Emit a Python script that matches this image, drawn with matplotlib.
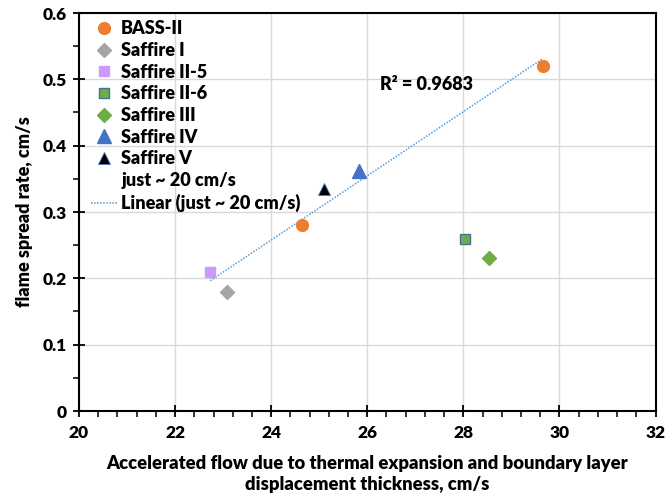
import numpy as np
import matplotlib
matplotlib.use("Agg")
import matplotlib.pyplot as plt
from matplotlib.ticker import MultipleLocator

plt.rcParams['font.family'] = ['Lato', 'DejaVu Sans']

# Experimental campaigns: accelerated flow (cm/s) vs flame spread rate (cm/s)
bass_x = [24.64, 29.65]
bass_y = [0.28, 0.52]
saffire1_x = [23.08]
saffire1_y = [0.18]
saffire2_5_x = [22.73]
saffire2_5_y = [0.21]
saffire2_6_x = [28.04]
saffire2_6_y = [0.26]
saffire3_x = [28.53]
saffire3_y = [0.23]
saffire4_x = [25.83]
saffire4_y = [0.362]
saffire5_x = [25.11]
saffire5_y = [0.335]

# Cases run at roughly 20 cm/s forced flow (used for the linear fit)
just20_x = [22.73, 23.08, 24.64, 25.11, 25.83, 29.65]
just20_y = [0.21, 0.18, 0.28, 0.335, 0.362, 0.52]

x_ticks = [20, 22, 24, 26, 28, 30, 32]
y_ticks = [0, 0.1, 0.2, 0.3, 0.4, 0.5, 0.6]
y_tick_labels = ["0", "0.1", "0.2", "0.3", "0.4", "0.5", "0.6"]

W = 'heavy'

fig = plt.figure(figsize=(6.67, 4.94), dpi=100)
ax = fig.add_axes([79 / 667, 1 - 411 / 494, (655.5 - 79) / 667, (411 - 13) / 494])

ax.set_xlim(20, 32)
ax.set_ylim(0, 0.6)
ax.set_xticks(x_ticks)
ax.set_yticks(y_ticks)
ax.set_yticklabels(y_tick_labels)
ax.xaxis.set_minor_locator(MultipleLocator(0.4))
ax.yaxis.set_minor_locator(MultipleLocator(0.05))
ax.grid(True, which='major', color='#D9D9D9', linewidth=1.0)
ax.set_axisbelow(True)
for s in ax.spines.values():
    s.set_color('black')
    s.set_linewidth(1.5)
ax.tick_params(which='major', direction='inout', length=8, width=1.3, labelsize=12.5)
ax.tick_params(axis='x', which='major', pad=6)
ax.tick_params(axis='y', which='major', pad=5)
ax.tick_params(which='minor', direction='out', length=4, width=1.1)
for lbl in ax.get_xticklabels() + ax.get_yticklabels():
    lbl.set_fontweight(W)

ms = 8.5
ax.plot(bass_x, bass_y, 'o', color='#ED7D31', ms=ms, mec='#ED7D31', label='BASS-II', zorder=3)
ax.plot(saffire1_x, saffire1_y, 'D', color='#A5A5A5', ms=7, mec='#A5A5A5', label='Saffire I', zorder=3)
ax.plot(saffire2_5_x, saffire2_5_y, 's', color='#CC99FF', ms=7.5, mec='#CC99FF', label='Saffire II-5', zorder=3)
ax.plot(saffire2_6_x, saffire2_6_y, 's', color='#70AD47', ms=7.5, mec='#41719C', mew=1.0, label='Saffire II-6', zorder=3)
ax.plot(saffire3_x, saffire3_y, 'D', color='#70AD47', ms=7, mec='#70AD47', label='Saffire III', zorder=3)
ax.plot(saffire4_x, saffire4_y, '^', color='#4472C4', ms=10, mec='#4472C4', label='Saffire IV', zorder=3)
ax.plot(saffire5_x, saffire5_y, '^', color='black', ms=9, mec='#4472C4', mew=0.6, label='Saffire V', zorder=3)
ax.plot(just20_x, just20_y, linestyle='none', marker='none', label='just ~ 20 cm/s')

# Least-squares trendline through the ~20 cm/s cases
slope, intercept = np.polyfit(just20_x, just20_y, 1)
xs = np.array([min(just20_x), max(just20_x)])
ax.plot(xs, slope * xs + intercept, linestyle=(0, (1, 1)), color='#5B9BD5', linewidth=1.1,
        label='Linear (just ~ 20 cm/s)', zorder=2)

ax.text(26.27, 0.492, 'R² = 0.9683', fontsize=13, fontweight=W, ha='left', va='center')

leg = ax.legend(loc='upper left', bbox_to_anchor=(0.009, 1.0), frameon=False,
                prop={'weight': W, 'size': 13}, handlelength=1.4,
                handletextpad=0.25, labelspacing=0.26, borderaxespad=0.2,
                borderpad=0.2)

ax.set_xlabel('Accelerated flow due to thermal expansion and boundary layer\ndisplacement thickness, cm/s',
              fontsize=13.2, fontweight=W, labelpad=10, linespacing=1.32)
ax.set_ylabel('flame spread rate, cm/s', fontsize=13, fontweight=W, labelpad=7)

fig.savefig('out.png', dpi=100)
